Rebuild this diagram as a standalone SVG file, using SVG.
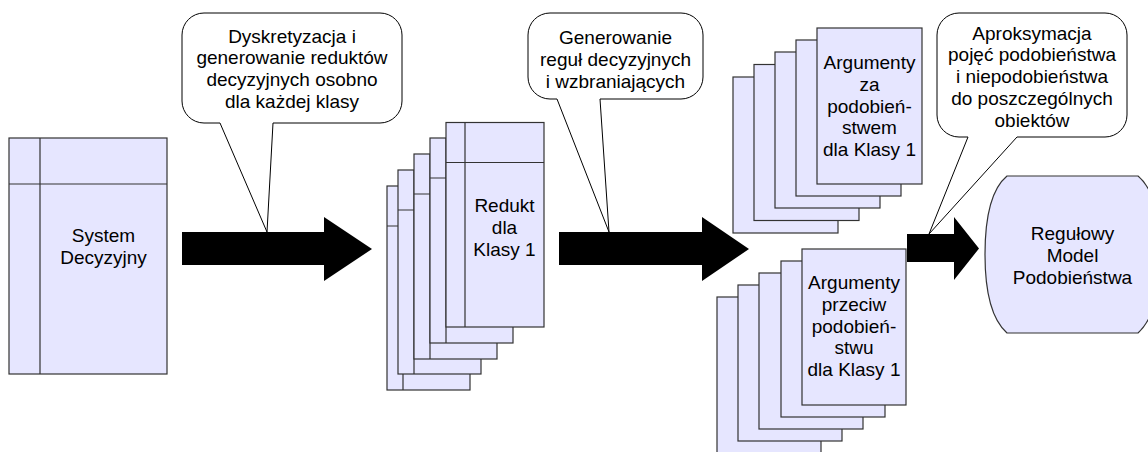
<svg xmlns="http://www.w3.org/2000/svg" width="1148" height="452" viewBox="0 0 1148 452">
  <style>
    .doc { fill: #e6e6ff; stroke: #333333; stroke-width: 1.2; }
    .sep { fill: none; stroke: #333333; stroke-width: 1.2; }
    .bubble { fill: #ffffff; stroke: #000000; stroke-width: 1; stroke-linejoin: round; }
    .arrow { fill: #000000; stroke: none; }
    .t { font-family: "Liberation Sans", Arial, sans-serif; font-size: 19px; fill: #000000; text-anchor: middle; }
  </style>
  <rect width="1148" height="452" fill="#ffffff"/>

  <!-- block arrows between stages -->
  <g id="connectors">
    <path class="arrow" d="M182,232 H324 V217 L372,249 L324,281 V265 H182 Z"/>
    <path class="arrow" d="M559,232 H702 V217 L749,249 L702,281 V265 H559 Z"/>
    <path class="arrow" d="M907,234 H954 V217 L979,248.5 L954,280 V262 H907 Z"/>
  </g>

  <!-- decision table -->
  <g id="system-decyzyjny">
    <rect class="doc" x="9" y="138" width="158" height="236"/>
    <path class="sep" d="M40,138 V374 M9,184 H167"/>
    <text class="t" x="103.5" y="242"><tspan x="103.5">System</tspan><tspan x="103.5" dy="21.8">Decyzyjny</tspan></text>
  </g>

  <!-- stack of reducts -->
  <g id="redukty">
    <rect class="doc" x="387" y="186" width="83" height="204"/>
    <path class="sep" d="M403,186 V390 M387,226 H470"/>
    <rect class="doc" x="398" y="170" width="83" height="204"/>
    <path class="sep" d="M414,170 V374 M398,210 H481"/>
    <rect class="doc" x="414" y="154" width="83" height="205"/>
    <path class="sep" d="M430,154 V359 M414,194 H497"/>
    <rect class="doc" x="430" y="138" width="83" height="205"/>
    <path class="sep" d="M446,138 V343 M430,178 H513"/>
    <rect class="doc" x="446" y="122.5" width="98" height="204.5"/>
    <path class="sep" d="M465,122.5 V327 M446,162.5 H544"/>
    <text class="t" x="504.5" y="212"><tspan x="504.5">Redukt</tspan><tspan x="504.5" dy="21.8">dla</tspan><tspan x="504.5" dy="21.8">Klasy 1</tspan></text>
  </g>

  <!-- arguments for similarity -->
  <g id="argumenty-za">
    <rect class="doc" x="733" y="77" width="105" height="156"/>
    <rect class="doc" x="754" y="64.5" width="105" height="156"/>
    <rect class="doc" x="775" y="52" width="105" height="156"/>
    <rect class="doc" x="796" y="40" width="105" height="156"/>
    <rect class="doc" x="817" y="28" width="105" height="156"/>
    <text class="t" x="869.5" y="69"><tspan x="869.5">Argumenty</tspan><tspan x="869.5" dy="21.8">za</tspan><tspan x="869.5" dy="21.8">podobień-</tspan><tspan x="869.5" dy="21.8">stwem</tspan><tspan x="869.5" dy="21.8">dla Klasy 1</tspan></text>
  </g>

  <!-- arguments against similarity -->
  <g id="argumenty-przeciw">
    <rect class="doc" x="717" y="297" width="104" height="156"/>
    <rect class="doc" x="738" y="285" width="104" height="156"/>
    <rect class="doc" x="759" y="273" width="104" height="156"/>
    <rect class="doc" x="781" y="261" width="104" height="156"/>
    <rect class="doc" x="802" y="249" width="104" height="156"/>
    <text class="t" x="854" y="289"><tspan x="854">Argumenty</tspan><tspan x="854" dy="21.8">przeciw</tspan><tspan x="854" dy="21.8">podobień-</tspan><tspan x="854" dy="21.8">stwu</tspan><tspan x="854" dy="21.8">dla Klasy 1</tspan></text>
  </g>

  <!-- resulting model -->
  <g id="model">
    <path class="doc" d="M1007,176 H1138 C1155,190 1160,220 1160,254.5 C1160,289 1155,318 1138,333 H1007 C990,318 985,289 985,254.5 C985,220 990,190 1007,176 Z"/>
    <text class="t" x="1072.5" y="240"><tspan x="1072.5">Regułowy</tspan><tspan x="1072.5" dy="21.8">Model</tspan><tspan x="1072.5" dy="21.8">Podobieństwa</tspan></text>
  </g>

  <!-- callouts -->
  <g id="callout-dyskretyzacja">
    <path class="bubble" d="M204,13 H380 A22,22 0 0 1 402,35 V101 A22,22 0 0 1 380,123 H273 L267,232 L220,123 H204 A22,22 0 0 1 182,101 V35 A22,22 0 0 1 204,13 Z"/>
    <text class="t" x="292" y="42.5"><tspan x="292">Dyskretyzacja i</tspan><tspan x="292" dy="21.8">generowanie reduktów</tspan><tspan x="292" dy="21.8">decyzyjnych osobno</tspan><tspan x="292" dy="21.8">dla każdej klasy</tspan></text>
  </g>

  <g id="callout-generowanie">
    <path class="bubble" d="M550,13 H681 A22,22 0 0 1 703,35 V77 A22,22 0 0 1 681,99 H600 L609,232 L557,99 H550 A22,22 0 0 1 528,77 V35 A22,22 0 0 1 550,13 Z"/>
    <text class="t" x="615.5" y="44"><tspan x="615.5">Generowanie</tspan><tspan x="615.5" dy="21.8">reguł decyzyjnych</tspan><tspan x="615.5" dy="21.8">i wzbraniających</tspan></text>
  </g>

  <g id="callout-aproksymacja">
    <path class="bubble" d="M959,13 H1105 A22,22 0 0 1 1127,35 V115 A22,22 0 0 1 1105,137 H1017 L929,234 L968,137 H959 A22,22 0 0 1 937,115 V35 A22,22 0 0 1 959,13 Z"/>
    <text class="t" x="1032" y="39.5"><tspan x="1032">Aproksymacja</tspan><tspan x="1032" dy="21.8">pojęć podobieństwa</tspan><tspan x="1032" dy="21.8">i niepodobieństwa</tspan><tspan x="1032" dy="21.8">do poszczególnych</tspan><tspan x="1032" dy="21.8">obiektów</tspan></text>
  </g>
</svg>
